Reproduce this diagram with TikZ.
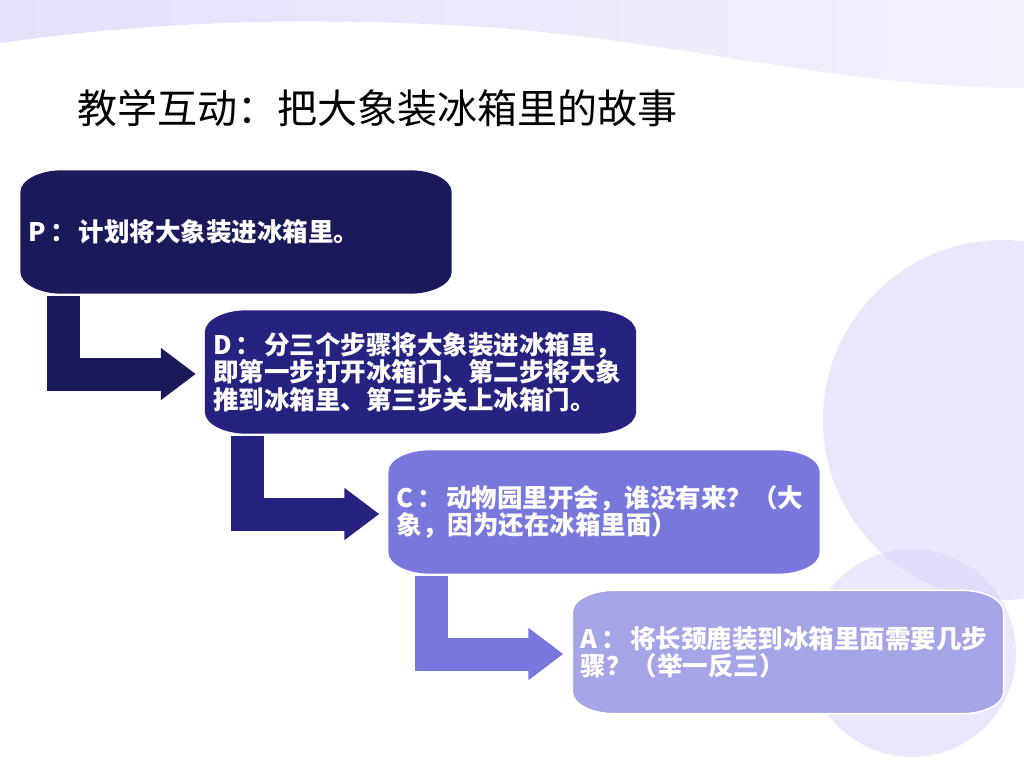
\documentclass[tikz,border=0pt]{standalone}
\usepackage{fontspec}
\setmainfont{Noto Sans CJK SC}
\newfontfamily\cjk{Noto Sans CJK SC}
\usetikzlibrary{arrows.meta,backgrounds}

\definecolor{colP}{HTML}{1A195A}
\definecolor{colD}{HTML}{25237F}
\definecolor{colC}{HTML}{7877DC}
\definecolor{colA}{HTML}{A4A4E6}
\definecolor{waveL}{HTML}{E5DFFA}
\definecolor{waveR}{HTML}{F4F2FD}
\definecolor{blob}{RGB}{219,210,250}

% box with oval corners, drawn from the node's anchors
\newcommand{\ovalfill}[2]{%
  \path[#2] ([xshift=42pt]#1.north west) -- ([xshift=-42pt]#1.north east)
    arc[start angle=90, end angle=0, x radius=42pt, y radius=22pt]
    -- ([yshift=22pt]#1.south east)
    arc[start angle=0, end angle=-90, x radius=42pt, y radius=22pt]
    -- ([xshift=42pt]#1.south west)
    arc[start angle=-90, end angle=-180, x radius=42pt, y radius=22pt]
    -- ([yshift=-22pt]#1.north west)
    arc[start angle=180, end angle=90, x radius=42pt, y radius=22pt]
    -- cycle;}
\newcommand{\lead}[1]{#1\,：\hspace{3pt}}

\begin{document}
\begin{tikzpicture}[x=1pt,y=-1pt,
  stepbox/.style={rectangle, minimum width=431pt, minimum height=123pt,
    text width=415pt, inner xsep=8pt, inner ysep=0pt, align=left,
    text=white, font=\cjk\fontsize{25.5}{27.5}\selectfont\bfseries},
  headline/.style={anchor=west, inner sep=0pt,
    font=\cjk\fontsize{40}{48}\selectfont},
  flow/.style={line width=33pt, line join=miter,
    -{Triangle[length=35pt,width=50pt]}}]
\useasboundingbox (0,0) rectangle (1024,768);

\node[headline] (T) at (77,108) {教学互动：把大象装冰箱里的故事};

\node[stepbox] (P) at (236,232) {\lead{P}计划将大象装进冰箱里。};
\node[stepbox] (D) at (420.5,372) {\lead{D}分三个步骤将大象装进冰箱里，\\即第一步打开冰箱门、第二步将大象\\推到冰箱里、第三步关上冰箱门。};
\node[stepbox] (C) at (604,512) {\lead{C}动物园里开会，谁没有来？（大\\象，因为还在冰箱里面）};
\node[stepbox] (A) at (788,652) {\lead{A}将长颈鹿装到冰箱里面需要几步\\骤？（举一反三）};

\begin{scope}[on background layer]
  \fill[white] (0,0) rectangle (1024,768);
  \shade[left color=waveL, right color=waveR] (0,0) -- (0,43)
    .. controls (150,22) and (300,15) .. (500,28)
    .. controls (700,45) and (850,88) .. (1024,88) -- (1024,0) -- cycle;
  \fill[blob, opacity=.55] (1003,420) circle[radius=180];
  \fill[blob, opacity=.55] (912,653) circle[radius=104];
  \ovalfill{P}{fill=colP}
  \ovalfill{D}{fill=colD}
  \ovalfill{C}{fill=colC}
  \ovalfill{A}{fill=colA, draw=white, line width=1.5pt}
\end{scope}

\draw[flow, colP] ([xshift=43pt,yshift=-2pt]P.south west) |- ([xshift=-9pt,yshift=-2pt]D.west);
\draw[flow, colD] ([xshift=43pt,yshift=-2pt]D.south west) |- ([xshift=-9pt,yshift=-2pt]C.west);
\draw[flow, colC] ([xshift=43pt,yshift=-2pt]C.south west) |- ([xshift=-9pt,yshift=-2pt]A.west);

\end{tikzpicture}
\end{document}
